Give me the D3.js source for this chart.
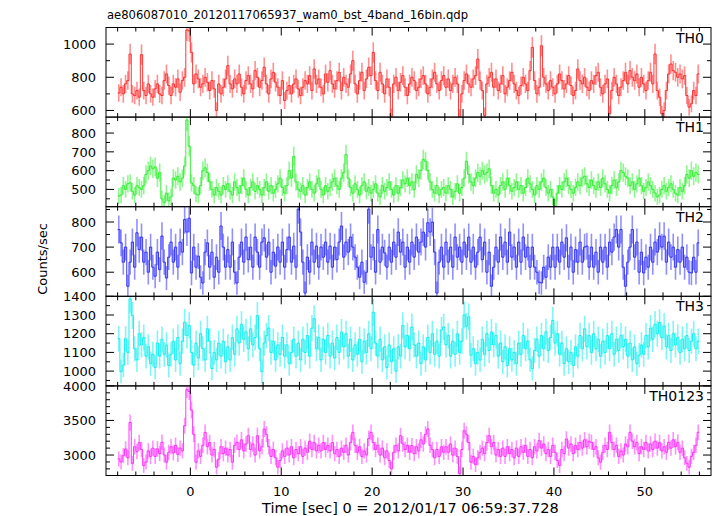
<!DOCTYPE html>
<html><head><meta charset="utf-8">
<script src="https://cdn.jsdelivr.net/npm/d3@7"></script>
<style>
html,body{margin:0;padding:0;background:#fff;}
svg{display:block;font-family:"DejaVu Sans",Verdana,sans-serif;}
</style></head>
<body><svg id="c" width="717" height="516"></svg>
<script>
// ---- data (count rates, 0.25 s bins starting at t = -8 s) ----
const title = "ae806087010_20120117065937_wam0_bst_4band_16bin.qdp";
const xLabel = "Time [sec] 0 = 2012/01/17 06:59:37.728";
const yLabel = "Counts/sec";
const bandNames = ["TH0","TH1","TH2","TH3","TH0123"];
const bandColors = ["#ff2020","#22ee22","#2222ff","#00eeee","#ff22ff"];
const tStart = -8, binSec = 0.25;
const xTickValues = [0,10,20,30,40,50];
const yTickValues = [[600,800,1000],[500,600,700,800],[600,700,800],[1000,1100,1200,1300,1400],[3000,3500,4000]];
const yMinorStep = [100,50,50,50,100];
const yDomains = [[560,1100],[408,885],[504,861],[921,1400],[2704,4000]];

const th0 = [
705,740,700,760,780,940,700,690,720,680,936,720,690,760,700,680,
730,760,700,690,780,820,750,690,760,740,790,710,780,800,1085,1080,
950,760,820,790,740,760,800,770,720,780,730,600,760,700,740,790,
870,760,730,790,760,820,740,700,780,810,760,730,840,800,740,780,
860,760,700,790,830,770,740,690,780,660,720,750,700,760,790,730,
690,740,780,760,810,720,850,760,790,740,700,820,770,840,760,730,
780,830,720,800,760,740,820,900,760,700,780,830,720,790,860,810,
950,780,720,830,760,700,790,740,565,760,800,720,770,810,740,690,
760,800,780,720,740,790,810,760,700,740,790,830,760,720,780,810,
740,790,720,760,800,760,560,700,780,820,760,740,790,810,910,780,
720,570,760,800,830,740,790,720,760,810,700,740,780,830,760,720,
690,750,800,760,720,840,980,780,700,740,990,800,760,720,780,740,
700,760,820,780,730,760,810,750,690,720,850,780,760,800,740,720,
780,760,810,830,740,700,760,790,580,720,800,760,690,740,780,830,
760,840,800,780,820,740,800,760,720,780,830,760,940,720,680,580,
600,720,820,880,840,830,800,820,790,810,690,620,640,720,690,820];

const th1 = [
465,470,520,500,530,535,490,470,520,510,500,520,580,600,625,610,
620,560,590,450,430,480,440,460,560,550,570,540,560,625,870,730,
535,520,475,470,520,600,615,590,540,500,470,510,490,470,520,500,
530,490,470,540,510,480,520,560,500,470,510,540,490,520,500,470,
510,540,490,520,480,500,530,560,510,480,520,600,560,675,540,500,
490,520,470,510,540,500,480,530,560,500,470,520,490,510,540,560,
520,500,560,590,685,560,510,480,530,500,470,520,540,490,510,480,
500,530,480,460,520,490,510,540,500,470,520,480,510,550,530,560,
520,540,500,580,560,600,660,650,600,540,500,480,520,470,500,510,
480,520,500,460,490,530,480,510,560,650,580,540,520,560,590,570,
600,580,590,610,520,480,500,470,520,540,500,560,520,490,510,540,
500,520,480,510,560,530,500,470,520,500,540,560,510,480,500,460,
410,480,520,500,540,560,520,500,480,510,540,520,560,570,530,510,
550,520,500,540,510,560,530,500,480,520,550,510,540,600,590,570,
560,520,540,500,530,560,520,490,510,540,520,500,480,460,470,500,
520,490,510,530,500,480,470,510,490,520,580,560,600,570,590,580];

const th2 = [
770,717,640,700,544,640,720,620,757,690,740,640,680,600,700,620,
584,680,610,744,640,577,660,720,640,700,620,720,680,810,760,815,
597,700,620,664,580,557,680,717,620,680,580,660,600,784,700,620,
690,620,720,600,557,660,720,640,740,650,700,620,740,680,620,720,
737,660,720,600,680,624,700,640,720,620,690,740,640,704,620,851,
760,640,517,660,600,720,640,704,620,700,660,720,640,704,620,700,
650,720,784,660,720,680,740,700,660,620,580,640,560,600,851,660,
700,600,770,640,700,677,620,700,640,720,660,760,680,720,620,700,
640,720,660,740,680,720,760,700,797,760,800,680,517,640,700,620,
720,640,700,620,740,660,700,640,720,660,740,640,700,620,680,740,
650,720,600,680,544,620,700,640,740,660,720,640,760,660,700,620,
720,640,740,660,700,620,700,620,600,560,557,620,580,660,620,700,
620,700,640,720,660,737,620,700,600,690,640,720,640,700,704,620,
700,620,680,600,700,640,700,620,720,680,740,770,700,770,620,544,
640,700,770,660,720,600,680,597,660,620,700,640,720,680,744,700,
744,640,720,660,700,620,690,640,700,620,660,600,597,660,600,717];

const th3 = [
1173,997,1032,1173,1100,1386,1297,1120,1060,1200,1140,1180,1080,1130,1040,1090,
1020,1150,1080,1170,1090,1140,1030,1090,1160,1060,1180,1040,1160,1262,1190,1244,
1100,1032,1150,1070,1200,1120,1060,1226,1160,1014,1100,1060,1150,1080,1160,1050,
1130,1060,1180,1090,1226,1150,1250,1170,1210,1120,1226,1140,1180,1297,1120,997,
1150,1190,1230,1100,1160,1060,1140,1090,1180,1080,1140,1040,1100,1170,1080,1150,
1060,1170,1100,1190,1080,1230,1280,1120,1180,1060,1170,1100,1190,1080,1150,1070,
1180,1100,1209,1130,1200,1080,1170,1060,1140,1090,1170,1050,1160,1100,1200,1120,
1315,1150,1080,1170,1060,1130,1020,1140,1050,1120,1000,1130,1080,1244,1130,1190,
1120,1236,1140,1080,1150,1040,1130,1060,1180,1100,1200,1090,1160,1080,1220,1236,
1140,1190,1080,1160,1090,1200,1100,1160,1300,1240,1290,1085,1120,1040,1100,1060,
1170,1090,1200,1110,1209,1140,1190,1080,1150,1050,1130,1030,1120,1060,1100,1040,
1150,1090,1190,1120,1160,1060,1014,1110,1170,1080,1190,1120,1210,1110,1180,1271,
1150,1200,1090,1150,1040,1120,1050,1100,1030,1130,1080,1190,1120,1226,1130,1190,
1100,1200,1120,1170,1080,1160,1100,1190,1120,1200,1090,1170,1110,1190,1130,1170,
1080,1150,1060,1130,1040,1085,1140,1090,1190,1130,1230,1170,1250,1200,1260,1180,
1240,1130,1190,1110,1200,1140,1180,1100,1170,1120,1190,1110,1160,1200,1120,1160];

const th0123 = [
2944,2900,2990,3088,2960,3470,2880,3120,3050,3180,3080,2848,2900,3060,2980,3100,
2980,3090,3020,3184,3000,2896,3040,3120,3030,3140,3010,3100,3060,3424,3950,3920,
3650,3300,2896,3060,2980,3140,3328,3120,3180,3000,3080,2824,2940,3120,3020,3100,
3000,3080,2896,3140,3184,3080,3220,3060,3160,3280,3080,3160,3000,3280,3060,3120,
3376,3300,3120,2980,3080,2960,2824,2920,3060,2980,3100,3000,3120,2960,3080,3020,
3120,2980,3100,3040,3200,3080,3180,3060,3140,3060,3180,3080,3140,3060,3180,3020,
3080,2980,3100,3040,3140,3000,3180,3328,3140,3040,3120,2980,3060,3000,3240,3328,
3180,3080,3140,3000,3100,2960,3060,2920,2800,3040,3140,3060,3280,3160,3080,3140,
3040,3136,3020,3120,3060,3220,3160,3300,3376,3140,3080,2960,3080,2980,3120,3040,
3120,3040,3160,3000,3100,2980,2728,3080,3352,3300,3180,2896,2980,2860,2960,3040,
3100,3020,3180,3280,3120,3180,3000,3080,2980,3100,2980,3120,3020,3080,2960,3100,
2980,3120,3040,3140,2980,3080,2960,3120,3060,3208,3100,3160,3020,3080,2980,3140,
3040,2920,2848,3080,3020,3232,3100,3160,3020,3140,3080,3180,3100,3220,3120,3200,
3184,3080,3120,2960,2896,3040,3140,3080,3328,3180,3080,3140,2980,3060,3000,3160,
3120,3328,3200,3120,3180,3020,3120,3080,3180,3060,3160,3080,3200,3100,3180,3060,
3120,3040,3184,3100,3220,3120,3184,3040,3100,2960,2880,2824,2980,3040,3140,3328];

const series = [th0, th1, th2, th3, th0123];

// ---- layout ----
const plotL = 106, plotR = 711, plotT = 27.5, plotB = 475.5;
const nP = series.length;
const ph = (plotB - plotT) / nP;
const svg = d3.select("#c");

const x = d3.scaleLinear().domain([-9.28, 57.28]).range([plotL, plotR]);
const xMinor = d3.range(-8, 57, 2);

svg.append("text").attr("x", 107).attr("y", 19).attr("font-size", 11.6).attr("fill", "#000").text(title);

series.forEach((vals, p) => {
  const y0 = plotT + p * ph, y1 = y0 + ph;
  const y = d3.scaleLinear().domain(yDomains[p]).range([y1, y0]);
  const g = svg.append("g");
  const cid = "clip" + p;
  svg.append("clipPath").attr("id", cid).append("rect")
    .attr("x", plotL).attr("y", y0).attr("width", plotR - plotL).attr("height", ph);
  const data = vals.map((v, i) => {
    const t = tStart + binSec * (i + 0.5);
    const e = Math.sqrt(v * binSec) / binSec;
    return {t, v, e};
  });
  const dg = g.append("g").attr("clip-path", `url(#${cid})`);
  dg.selectAll("line.err").data(data).join("line").attr("class", "err")
    .attr("x1", d => x(d.t)).attr("x2", d => x(d.t))
    .attr("y1", d => y(d.v - d.e)).attr("y2", d => y(d.v + d.e))
    .attr("stroke", bandColors[p]).attr("stroke-width", 1.6).attr("stroke-opacity", 0.5);
  const pts = [];
  data.forEach(d => { pts.push([x(d.t - binSec/2), y(d.v)]); pts.push([x(d.t + binSec/2), y(d.v)]); });
  dg.append("path").attr("d", d3.line()(pts)).attr("fill", "none")
    .attr("stroke", bandColors[p]).attr("stroke-width", 1).attr("stroke-opacity", 0.9);

  g.append("rect").attr("x", plotL).attr("y", y0).attr("width", plotR - plotL).attr("height", ph)
    .attr("fill", "none").attr("stroke", "#000").attr("stroke-width", 1);

  const xt = g.append("g").attr("stroke", "#000").attr("stroke-width", 1);
  xMinor.forEach(t => {
    const major = t % 10 === 0;
    const L = major ? 8 : 4;
    xt.append("line").attr("x1", x(t)).attr("x2", x(t)).attr("y1", y1).attr("y2", y1 - L);
    xt.append("line").attr("x1", x(t)).attr("x2", x(t)).attr("y1", y0).attr("y2", y0 + L);
  });
  const [dmin, dmax] = yDomains[p];
  const st = yMinorStep[p];
  const yt = g.append("g").attr("stroke", "#000").attr("stroke-width", 1);
  for (let v = Math.ceil(dmin / st) * st; v <= dmax; v += st) {
    const major = yTickValues[p].includes(v);
    const L = major ? 8 : 4;
    yt.append("line").attr("x1", plotL).attr("x2", plotL + L).attr("y1", y(v)).attr("y2", y(v));
    yt.append("line").attr("x1", plotR).attr("x2", plotR - L).attr("y1", y(v)).attr("y2", y(v));
  }
  yTickValues[p].forEach(v => {
    g.append("text").attr("x", 96).attr("y", y(v)).attr("dy", "0.36em")
      .attr("text-anchor", "end").attr("font-size", 13).text(v);
  });
  g.append("text").attr("x", 704).attr("y", y0 + 15).attr("text-anchor", "end")
    .attr("font-size", 14).text(bandNames[p]);
});

xTickValues.forEach(t => {
  svg.append("text").attr("x", x(t)).attr("y", 496).attr("text-anchor", "middle")
    .attr("font-size", 13).text(t);
});
svg.append("text").attr("x", x(24.2)).attr("y", 513).attr("text-anchor", "middle")
  .attr("font-size", 14.5).text(xLabel);
svg.append("text").attr("transform", "translate(47,259) rotate(-90)").attr("text-anchor", "middle")
  .attr("font-size", 13).text(yLabel);
</script></body></html>
